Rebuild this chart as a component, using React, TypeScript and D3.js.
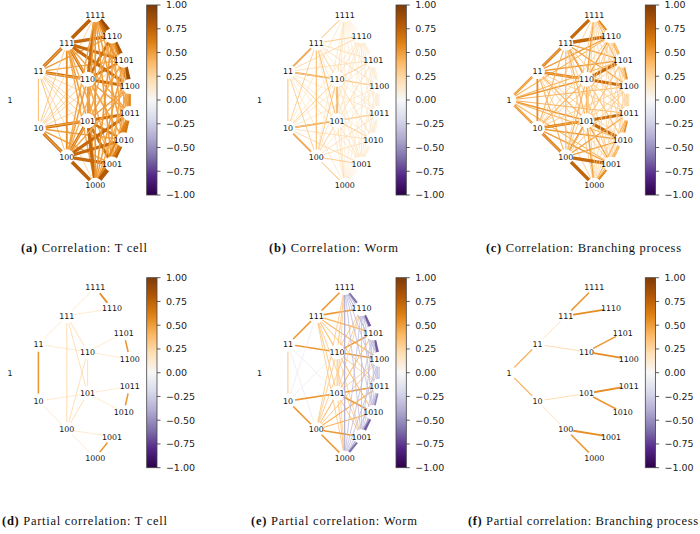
import React from "react";
import * as d3 from "d3";

const nodeLabels = ["1","11","10","111","110","101","100","1111","1110","1101","1100","1011","1010","1001","1000"];
const colorStops = ["#2d004b","#542788","#8073ac","#b2abd2","#d8daeb","#f7f7f7","#fee0b6","#fdb863","#e08214","#b35806","#7f3b08"];
const colorbarTicks = [1,0.75,0.5,0.25,0,-0.25,-0.5,-0.75,-1];

const corrTCell = [
  [0,0,0,0,0,0,0,0,0,0,0,0,0,0],
  [.38,.72,.7,.32,.37,.47,.5,.47,.47,.3,.3,.3,.3],
  [.34,.32,.7,.72,.3,.3,.3,.3,.47,.5,.5,.47],
  [.68,.5,.56,.76,.72,.72,.72,.47,.45,.45,.47],
  [.5,.5,.7,.68,.66,.7,.5,.47,.47,.5],
  [.68,.5,.47,.47,.5,.7,.66,.68,.72],
  [.47,.45,.45,.47,.72,.72,.72,.76],
  [.9,.74,.62,.47,.5,.5,.52],
  [.82,.62,.47,.47,.5,.52],
  [.86,.47,.47,.47,.5],
  [.6,.5,.47,.47],
  [.66,.62,.58],
  [.76,.62],
  [.8],
];
const corrWorm = [
  [0,0,0,0,0,0,0,0,0,0,0,0,0,0],
  [.38,.55,.52,.32,.32,.26,.28,.25,.25,.2,.2,.2,.2],
  [.32,.32,.52,.55,.2,.2,.2,.2,.25,.25,.28,.26],
  [.3,.38,.4,.34,.34,.25,.25,.2,.2,.2,.2],
  [.5,.34,.25,.25,.34,.35,.2,.2,.2,.2],
  [.3,.2,.2,.2,.2,.35,.34,.25,.25],
  [.2,.2,.2,.2,.25,.25,.34,.34],
  [.16,.16,.16,.16,.16,.16,.16],
  [.16,.16,.16,.16,.16,.16],
  [.16,.16,.16,.16,.16],
  [.16,.16,.16,.16],
  [.16,.16,.16],
  [.16,.16],
  [.16],
];
const corrBranching = [
  [.62,.62,.55,.52,.52,.55,.42,.42,.42,.42,.42,.42,.42,.42],
  [.56,.68,.66,.42,.42,.48,.5,.5,.5,.32,.32,.32,.32],
  [.42,.42,.66,.68,.32,.32,.32,.32,.5,.5,.5,.48],
  [.55,.42,.42,.72,.74,.48,.48,.35,.35,.33,.33],
  [.42,.42,.48,.48,.72,.72,.33,.33,.33,.33],
  [.55,.33,.33,.33,.33,.72,.72,.48,.48],
  [.33,.33,.35,.35,.48,.48,.72,.74],
  [.58,.42,.42,.3,.3,.28,.28],
  [.42,.42,.3,.3,.28,.28],
  [.55,.3,.28,.28,.28],
  [.3,.28,.28,.28],
  [.55,.42,.42],
  [.42,.42],
  [.58],
];
const partialWorm = [
  [0,0,0,0,0,0,0,0,0,0,0,0,0,0],
  [.36,.52,.52,-.12,-.12,0,0,0,0,0,0,0,0],
  [-.12,-.12,.52,.52,0,0,0,0,0,0,0,0],
  [.34,.34,0,.52,.52,.42,.42,.35,.35,.32,.32],
  [.34,.32,.35,.35,.52,.52,.32,.32,.3,.3],
  [.34,.3,.3,.32,.32,.52,.52,.35,.35],
  [.32,.32,.35,.35,.42,.42,.52,.52],
  [-.6,-.38,-.38,-.32,-.32,-.32,-.42],
  [-.66,-.38,-.32,-.32,-.32,-.32],
  [-.66,-.32,-.32,-.32,-.32],
  [-.34,-.3,-.32,-.32],
  [-.54,-.38,-.32],
  [-.66,-.42],
  [-.6],
];
const partialTCellEdges: [string,string,number][] = [
  ["11","10",.52],["1111","1110",.56],["1101","1100",.52],["1011","1010",.52],["1001","1000",.52],
  ["11","111",.2],["11","110",.2],["10","101",.2],["10","100",.2],
  ["111","1111",.2],["111","1110",.2],["110","1101",.2],["110","1100",.2],
  ["101","1011",.2],["101","1010",.2],["100","1001",.2],["100","1000",.2],
  ["111","100",.28],["111","110",.26],["111","101",.26],["110","100",.26],["101","100",.26],["110","101",.26],
];
const partialBranchingEdges: [string,string,number][] = [
  ["1","11",.44],["1","10",.44],["11","111",.26],["11","110",.28],["10","101",.28],["10","100",.26],
  ["111","1111",.52],["111","1110",.56],["110","1101",.52],["110","1100",.56],
  ["101","1011",.56],["101","1010",.52],["100","1001",.56],["100","1000",.52],
];

function fromRows(rows: number[][]): [string,string,number][] {
  const out: [string,string,number][] = [];
  rows.forEach((r, i) => r.forEach((v, k) => { if (v !== 0) out.push([nodeLabels[i], nodeLabels[i + 1 + k], v]); }));
  return out;
}

const panels = [
  { key: "a", tag: "(a)", title: "Correlation: T cell", edges: fromRows(corrTCell), col: 0, row: 0, tx: [21, 147] },
  { key: "b", tag: "(b)", title: "Correlation: Worm", edges: fromRows(corrWorm), col: 1, row: 0, tx: [269, 398] },
  { key: "c", tag: "(c)", title: "Correlation: Branching process", edges: fromRows(corrBranching), col: 2, row: 0, tx: [486, 681] },
  { key: "d", tag: "(d)", title: "Partial correlation: T cell", edges: partialTCellEdges, col: 0, row: 1, tx: [2, 167] },
  { key: "e", tag: "(e)", title: "Partial correlation: Worm", edges: fromRows(partialWorm), col: 1, row: 1, tx: [251, 417] },
  { key: "f", tag: "(f)", title: "Partial correlation: Branching process", edges: partialBranchingEdges, col: 2, row: 1, tx: [468, 698] },
];

const colorScale = d3.scaleLinear<string>().domain(d3.range(11).map((i) => -1 + i * 0.2)).range(colorStops).interpolate(d3.interpolateRgb);
const widthScale = d3.scalePow().exponent(3).domain([0, 1]).range([0.6, 7.6]);

const levels = [0, 1, 2, 3].map((lv) => nodeLabels.filter((n) => n.length === lv + 1));
const radius = d3.scaleLinear().domain([0, 3]).range([0, 120.5]);
const angleAt = (lv: number) => d3.scalePoint<string>().domain(levels[lv]).range([-Math.PI / 4, Math.PI / 4]);
const layout = new Map<string, [number, number]>();
nodeLabels.forEach((n) => {
  const lv = n.length - 1;
  const a = lv === 0 ? 0 : (angleAt(lv)(n) as number);
  layout.set(n, [radius(lv) * Math.cos(a), radius(lv) * Math.sin(a)]);
});

const colX = d3.scaleLinear().domain([0, 2]).range([10, 509]);
const rowY = d3.scaleLinear().domain([0, 1]).range([100, 372.7]);
const barX = d3.scaleLinear().domain([0, 2]).range([146.7, 645.3]);
const barTop = d3.scaleLinear().domain([0, 1]).range([5, 277.7]);
const BAR_W = 10.3;
const BAR_H = 190;
const barY = d3.scaleLinear().domain([1, -1]).range([0, BAR_H]);
const fmt = (v: number) => v.toFixed(2).replace("-", "\u2212");

export default function App() {
  return (
    <svg width={700} height={534} style={{ position: "absolute", left: 0, top: 0, background: "#fff" }}>
      <defs>
        <linearGradient id="bar" x1="0" x2="0" y1="1" y2="0">
          {colorStops.map((c, i) => <stop key={i} offset={`${i * 10}%`} stopColor={c} />)}
        </linearGradient>
      </defs>
      {panels.map((p) => {
        const ox = colX(p.col);
        const oy = rowY(p.row);
        const bx = barX(p.col);
        const by = barTop(p.row);
        return (
          <g key={p.key}>
            <g transform={`translate(${ox},${oy})`}>
              {p.edges.map(([s, t, v], i) => {
                const a = layout.get(s)!;
                const b = layout.get(t)!;
                return <line key={i} x1={a[0]} y1={a[1]} x2={b[0]} y2={b[1]} stroke={colorScale(v)} strokeWidth={widthScale(Math.abs(v))} />;
              })}
              {nodeLabels.map((n) => {
                const q = layout.get(n)!;
                return <circle key={n} cx={q[0]} cy={q[1]} r={7.5} fill="#fff" />;
              })}
              {nodeLabels.map((n) => {
                const q = layout.get(n)!;
                return (
                  <text key={n} x={q[0]} y={q[1]} textAnchor="middle" dy="0.36em" fontFamily="DejaVu Sans" fontSize={7.9} fill="#111">{n}</text>
                );
              })}
            </g>
            <g transform={`translate(${bx},${by})`}>
              <rect width={BAR_W} height={BAR_H} fill="url(#bar)" stroke="#444" strokeWidth={0.8} />
              {colorbarTicks.map((v) => (
                <g key={v} transform={`translate(${BAR_W},${barY(v)})`}>
                  <line x2={3.5} stroke="#333" strokeWidth={0.8} />
                  <text x={8.9} dy="0.36em" fontFamily="DejaVu Sans" fontSize={9.5} fill="#222">{fmt(v)}</text>
                </g>
              ))}
            </g>
            <text x={p.tx[0]} y={p.row === 0 ? 252 : 525} textLength={p.tx[1] - p.tx[0]} lengthAdjust="spacing" fontFamily="Liberation Serif" fontSize={12.5} fill="#111">
              <tspan fontWeight="bold">{p.tag}</tspan>
              <tspan>{" " + p.title}</tspan>
            </text>
          </g>
        );
      })}
    </svg>
  );
}
